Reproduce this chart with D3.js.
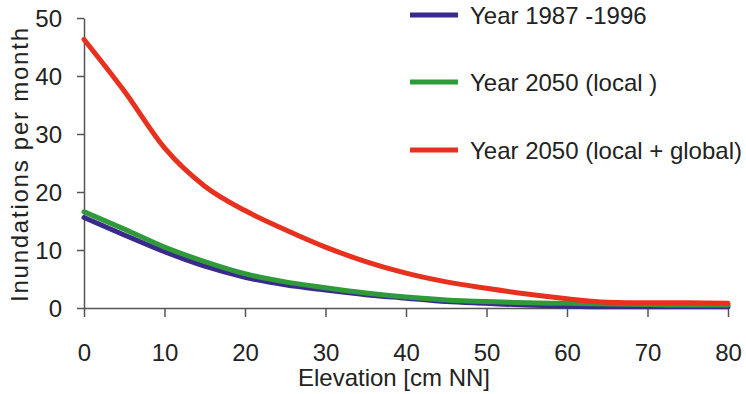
<!DOCTYPE html>
<html>
<head>
<meta charset="utf-8">
<script src="https://cdn.jsdelivr.net/npm/d3@7"></script>
<style>
  body { margin: 0; background: #fff; }
  svg { display: block; font-family: "Liberation Sans", Arial, sans-serif; }
  .axis path, .axis line { stroke: #555; stroke-width: 1.5; }
  .axis text { font-size: 24px; fill: #222; }
  .line { fill: none; stroke-width: 5; stroke-linejoin: round; stroke-linecap: round; }
</style>
</head>
<body>
<svg width="746" height="394"></svg>
<script>
// elevation steps (cm NN)
const elevation = [0, 5, 10, 15, 20, 25, 30, 35, 40, 45, 50, 55, 60, 65, 70, 75, 80];

// inundations per month for each scenario
const obs1987 = [15.6, 12.6, 9.7, 7.2, 5.3, 4.0, 3.1, 2.3, 1.7, 1.1, 0.8, 0.5, 0.3, 0.2, 0.2, 0.2, 0.2];
const local2050 = [16.6, 13.6, 10.5, 8.0, 5.9, 4.5, 3.5, 2.6, 1.9, 1.4, 1.1, 0.9, 0.8, 0.7, 0.6, 0.5, 0.5];
const global2050 = [46.3, 37.4, 27.6, 21.0, 16.8, 13.5, 10.5, 8.0, 6.0, 4.5, 3.4, 2.4, 1.6, 1.0, 0.9, 0.9, 0.8];

const seriesNames = ['Year 1987 -1996', 'Year 2050 (local )', 'Year 2050 (local + global)'];
const seriesColors = ['#3a2a8c', '#2f9a3a', '#e8301f'];
const xTicks = [0, 10, 20, 30, 40, 50, 60, 70, 80];
const yTicks = [0, 10, 20, 30, 40, 50];

const svg = d3.select('svg');

let x = d3.scaleLinear().domain([0, 80]).range([84, 728]);
let y = d3.scaleLinear().domain([0, 50]).range([308, 18]);

// axes
svg.append('g')
  .attr('class', 'axis')
  .attr('transform', 'translate(84,0)')
  .call(d3.axisLeft(y).tickValues(yTicks).tickSize(7).tickSizeOuter(0).tickPadding(15))
  .call(g => g.selectAll('text').attr('dy', '0.36em'));

svg.append('g')
  .attr('class', 'axis')
  .attr('transform', 'translate(0,308)')
  .call(d3.axisBottom(x).tickValues(xTicks).tickSize(9).tickSizeOuter(0).tickPadding(27));

svg.append('text')
  .attr('x', 394)
  .attr('y', 386)
  .attr('text-anchor', 'middle')
  .attr('font-size', 24)
  .attr('fill', '#222')
  .text('Elevation [cm NN]');

svg.append('text')
  .attr('transform', 'translate(28,165) rotate(-90)')
  .attr('text-anchor', 'middle')
  .attr('font-size', 24)
  .attr('fill', '#222')
  .attr('textLength', 274)
  .attr('lengthAdjust', 'spacing')
  .text('Inundations per month');

// lines
let line = d3.line()
  .curve(d3.curveMonotoneX)
  .x((d, i) => x(elevation[i]))
  .y(d => y(d));

const allSeries = [obs1987, local2050, global2050];
allSeries.forEach((s, k) => {
  svg.append('path')
    .datum(s)
    .attr('class', 'line')
    .attr('stroke', seriesColors[k])
    .attr('d', line);
});

// legend
const legendY = [15, 82, 150];
seriesNames.forEach((name, k) => {
  const g = svg.append('g').attr('transform', 'translate(410,' + legendY[k] + ')');
  g.append('line')
    .attr('x1', 0).attr('x2', 48)
    .attr('stroke', seriesColors[k])
    .attr('stroke-width', 5);
  g.append('text')
    .attr('x', 60)
    .attr('y', 9)
    .attr('font-size', 24)
    .attr('fill', '#222')
    .text(name);
});
</script>
</body>
</html>
